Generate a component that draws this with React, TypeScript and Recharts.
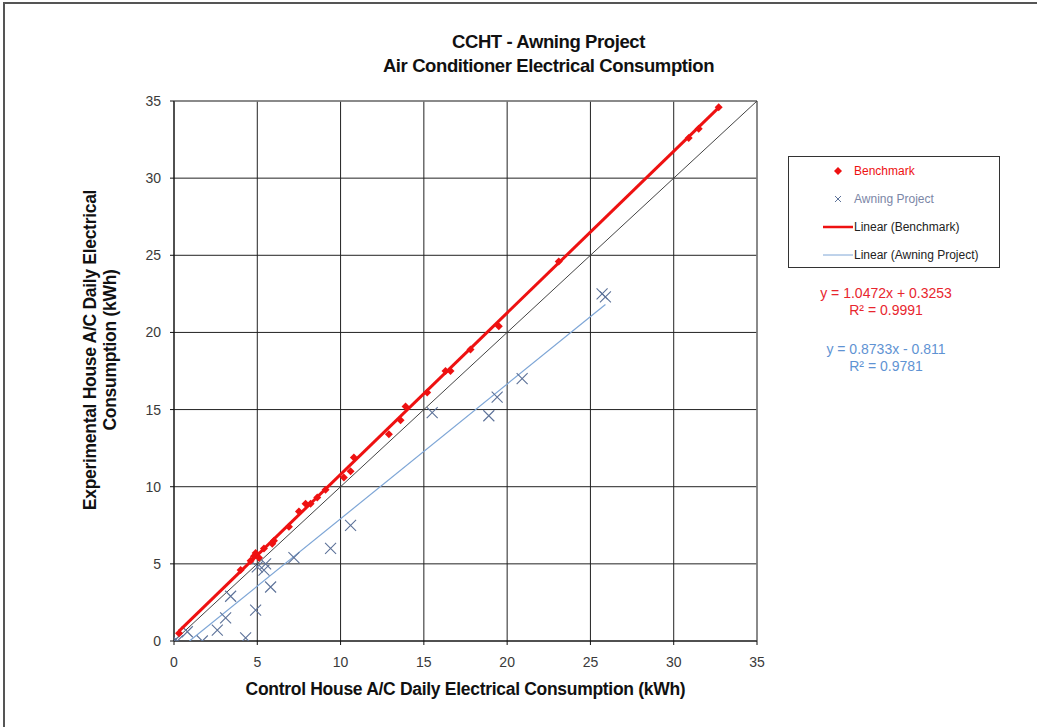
import React from "react";
import {
  CartesianGrid,
  ReferenceLine,
  Scatter,
  ScatterChart,
  XAxis,
  YAxis
} from "recharts";

// control house (x) vs experimental house (y), kWh per day
const benchX = [0.3, 4.0, 4.6, 4.8, 4.9, 5.1, 5.4, 5.9, 6.0, 6.9, 7.5, 7.9, 8.2, 8.6, 9.1, 10.2, 10.6, 10.8, 12.9, 13.6, 13.9, 15.2, 16.3, 16.6, 17.8, 19.5, 23.1, 30.9, 31.5, 32.7];
const benchY = [0.5, 4.6, 5.2, 5.5, 5.7, 5.4, 6.0, 6.3, 6.5, 7.4, 8.4, 8.9, 8.9, 9.3, 9.8, 10.6, 11.0, 11.9, 13.4, 14.3, 15.2, 16.1, 17.5, 17.5, 18.9, 20.4, 24.6, 32.6, 33.2, 34.6];

const awningX = [0.1, 0.2, 0.8, 1.7, 2.6, 3.1, 3.4, 4.3, 4.9, 5.0, 5.4, 5.5, 5.8, 7.2, 9.4, 10.6, 15.5, 18.9, 19.4, 20.9, 25.7, 25.9];
const awningY = [0.1, 0.0, 0.6, 0.0, 0.7, 1.5, 2.9, 0.2, 2.0, 4.8, 4.6, 5.0, 3.5, 5.4, 6.0, 7.5, 14.8, 14.6, 15.8, 17.0, 22.5, 22.3];

// Excel trendline coefficients
const benchFit = { slope: 1.0472, intercept: 0.3253, r2: "0.9991" };
const awningFit = { slope: 0.8733, intercept: -0.811, r2: "0.9781" };

const axisTicks = [0, 5, 10, 15, 20, 25, 30, 35];

const benchmark = benchX.map((x, i) => ({ x, y: benchY[i] }));
const awning = awningX.map((x, i) => ({ x, y: awningY[i] }));

function fitLine(xs: number[], fit: { slope: number; intercept: number }) {
  const lo = Math.max(Math.min(...xs), -fit.intercept / fit.slope);
  const hi = Math.max(...xs);
  return [lo, hi].map((x) => ({ x, y: fit.slope * x + fit.intercept }));
}

const benchTrend = fitLine(benchX, benchFit);
const awningTrend = fitLine(awningX, awningFit);

const RED = "#ee1111";
const XBLUE = "#5d7299";
const TRENDBLUE = "#7ea6d6";
const FONT = "'Liberation Sans', Arial, sans-serif";

const Diamond = (props: any) => {
  const { cx, cy } = props;
  const r = 4;
  return <path d={`M${cx},${cy - r}L${cx + r},${cy}L${cx},${cy + r}L${cx - r},${cy}Z`} fill={RED} />;
};

const Cross = (props: any) => {
  const { cx, cy } = props;
  const r = 5.5;
  return (
    <path
      d={`M${cx - r},${cy - r}L${cx + r},${cy + r}M${cx - r},${cy + r}L${cx + r},${cy - r}`}
      stroke={XBLUE}
      strokeWidth={1.1}
      fill="none"
    />
  );
};

const NoDot = () => null;

function LegendBox() {
  const row = { display: "flex", alignItems: "center", height: 28 } as const;
  const mark = { width: 30, display: "flex", justifyContent: "center", marginRight: 1 } as const;
  return (
    <div
      style={{
        position: "absolute",
        left: 788,
        top: 156,
        width: 212,
        height: 112,
        border: "1px solid #333",
        background: "#fff",
        fontFamily: FONT,
        fontSize: 12,
        boxSizing: "border-box"
      }}
    >
      <div style={{ paddingLeft: 34 }}>
        <div style={row}>
          <span style={mark}>
            <svg width={8} height={8}><path d="M4,0L8,4L4,8L0,4Z" fill={RED} /></svg>
          </span>
          <span style={{ color: RED }}>Benchmark</span>
        </div>
        <div style={row}>
          <span style={mark}>
            <svg width={8} height={8}><path d="M1,1L7,7M1,7L7,1" stroke={XBLUE} strokeWidth={1} /></svg>
          </span>
          <span style={{ color: "#7b86a6" }}>Awning Project</span>
        </div>
        <div style={row}>
          <span style={mark}>
            <svg width={30} height={4}><line x1={0} y1={2} x2={30} y2={2} stroke={RED} strokeWidth={2.5} /></svg>
          </span>
          <span style={{ color: "#222" }}>Linear (Benchmark)</span>
        </div>
        <div style={row}>
          <span style={mark}>
            <svg width={30} height={4}><line x1={0} y1={2} x2={30} y2={2} stroke={TRENDBLUE} strokeWidth={1} /></svg>
          </span>
          <span style={{ color: "#222" }}>Linear (Awning Project)</span>
        </div>
      </div>
    </div>
  );
}

const fmtEq = (f: { slope: number; intercept: number }) =>
  `y = ${f.slope.toFixed(4)}x ${f.intercept < 0 ? "-" : "+"} ${Math.abs(f.intercept)}`;

export default function App() {
  const tick = { fontSize: 14, fill: "#3a3a3a", fontFamily: FONT };
  const axisTitle = {
    position: "absolute" as const,
    fontFamily: FONT,
    fontWeight: "bold" as const,
    fontSize: 17.5,
    color: "#111",
    letterSpacing: -0.3,
    whiteSpace: "nowrap" as const
  };
  return (
    <div style={{ position: "absolute", left: 0, top: 0, width: 1037, height: 727, background: "#fff", overflow: "hidden" }}>
      <div
        style={{
          position: "absolute",
          left: 3,
          top: 2,
          width: 1040,
          height: 730,
          borderLeft: "2px solid #555",
          borderTop: "2px solid #555"
        }}
      />
      <div
        style={{
          position: "absolute",
          left: 0,
          width: 1037,
          top: 30,
          textAlign: "center",
          fontFamily: FONT,
          fontWeight: "bold",
          fontSize: 18.5,
          lineHeight: "24px",
          color: "#111",
          letterSpacing: -0.4,
          paddingLeft: 60,
          boxSizing: "border-box"
        }}
      >
        <div>CCHT - Awning Project</div>
        <div>Air Conditioner Electrical Consumption</div>
      </div>

      <ScatterChart
        width={1037}
        height={727}
        margin={{ top: 101, right: 280, bottom: 46, left: 124 }}
        style={{ position: "absolute", left: 0, top: 0 }}
      >
        <CartesianGrid stroke="#222" strokeWidth={1} />
        <XAxis
          type="number"
          dataKey="x"
          domain={[0, 35]}
          ticks={axisTicks}
          height={40}
          tick={tick}
          tickSize={4}
          tickMargin={12}
          stroke="#111"
          allowDataOverflow
        />
        <YAxis
          type="number"
          dataKey="y"
          domain={[0, 35]}
          ticks={axisTicks}
          width={50}
          tick={tick}
          tickSize={4}
          tickMargin={9}
          stroke="#111"
          allowDataOverflow
        />
        <ReferenceLine x={35} stroke="#888" strokeWidth={1.5} />
        <ReferenceLine y={35} stroke="#888" strokeWidth={1.5} />
        <ReferenceLine
          segment={[
            { x: 0, y: 0 },
            { x: 35, y: 35 }
          ]}
          stroke="#444"
          strokeWidth={1}
        />
        <Scatter
          name="Linear (Awning Project)"
          data={awningTrend}
          line={{ stroke: TRENDBLUE, strokeWidth: 1.2 }}
          shape={NoDot}
          isAnimationActive={false}
        />
        <Scatter name="Awning Project" data={awning} shape={Cross} isAnimationActive={false} />
        <Scatter
          name="Linear (Benchmark)"
          data={benchTrend}
          line={{ stroke: RED, strokeWidth: 3 }}
          shape={NoDot}
          isAnimationActive={false}
        />
        <Scatter name="Benchmark" data={benchmark} shape={Diamond} isAnimationActive={false} />
      </ScatterChart>

      <LegendBox />

      <div style={{ ...axisTitle, left: 174, width: 583, top: 679, textAlign: "center" }}>
        Control House A/C Daily Electrical Consumption (kWh)
      </div>
      <div
        style={{
          ...axisTitle,
          left: 100 - 200,
          top: 352 - 22,
          width: 400,
          textAlign: "center",
          lineHeight: "20px",
          transform: "rotate(-90deg)"
        }}
      >
        <div>Experimental House A/C Daily Electrical</div>
        <div>Consumption (kWh)</div>
      </div>

      <div
        style={{
          position: "absolute",
          left: 780,
          width: 212,
          top: 285,
          textAlign: "center",
          fontFamily: FONT,
          fontSize: 14,
          lineHeight: "17px",
          color: "#e8262e"
        }}
      >
        <div>{fmtEq(benchFit)}</div>
        <div>R² = {benchFit.r2}</div>
      </div>
      <div
        style={{
          position: "absolute",
          left: 780,
          width: 212,
          top: 341,
          textAlign: "center",
          fontFamily: FONT,
          fontSize: 14,
          lineHeight: "17px",
          color: "#5f93d3"
        }}
      >
        <div>{fmtEq(awningFit)}</div>
        <div>R² = {awningFit.r2}</div>
      </div>
    </div>
  );
}
